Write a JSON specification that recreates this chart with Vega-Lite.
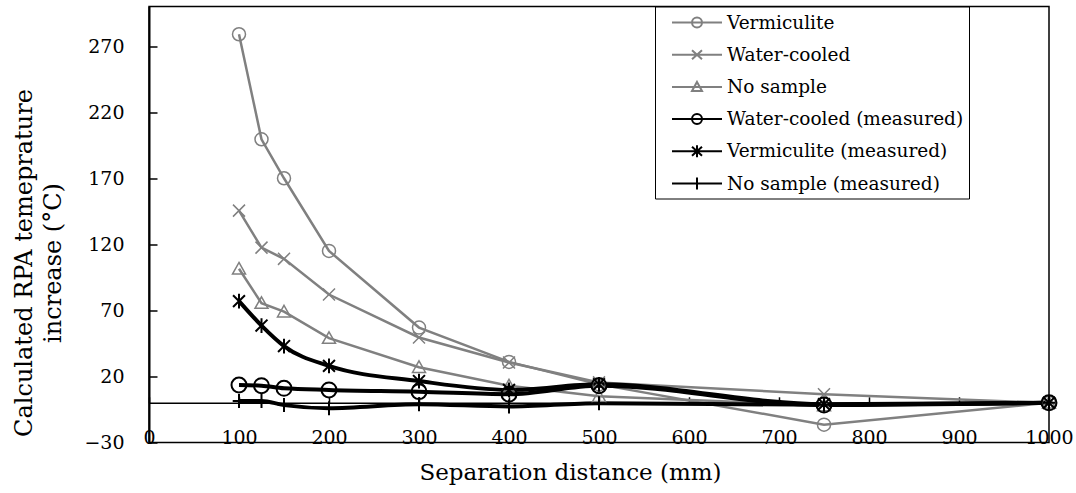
{
  "$schema": "https://vega.github.io/schema/vega-lite/v6.json",
  "width": 900,
  "height": 436,
  "autosize": {"type": "none"},
  "padding": {"left": 149, "top": 6.5, "right": 27, "bottom": 50},
  "background": "white",
  "config": {
    "view": {"stroke": "black", "strokeWidth": 1.5},
    "font": "DejaVu Serif",
    "axis": {"labelFont": "DejaVu Serif", "titleFont": "DejaVu Serif", "labelColor": "black", "titleColor": "black", "grid": false, "titleFontWeight": "normal"},
    "legend": {"labelFont": "DejaVu Serif", "labelColor": "black"}
  },
  "data": {
    "values": [
      {"x": 100, "series": "Vermiculite", "y": 279},
      {"x": 125, "series": "Vermiculite", "y": 199.5},
      {"x": 150, "series": "Vermiculite", "y": 170},
      {"x": 200, "series": "Vermiculite", "y": 115},
      {"x": 300, "series": "Vermiculite", "y": 57},
      {"x": 400, "series": "Vermiculite", "y": 31},
      {"x": 500, "series": "Vermiculite", "y": 14},
      {"x": 750, "series": "Vermiculite", "y": -16.5},
      {"x": 1000, "series": "Vermiculite", "y": 0},
      {"x": 100, "series": "Water-cooled", "y": 145.5},
      {"x": 125, "series": "Water-cooled", "y": 117.5},
      {"x": 150, "series": "Water-cooled", "y": 109},
      {"x": 200, "series": "Water-cooled", "y": 82},
      {"x": 300, "series": "Water-cooled", "y": 49.5},
      {"x": 400, "series": "Water-cooled", "y": 30.5},
      {"x": 500, "series": "Water-cooled", "y": 15.5},
      {"x": 750, "series": "Water-cooled", "y": 6.5},
      {"x": 1000, "series": "Water-cooled", "y": 0},
      {"x": 100, "series": "No sample", "y": 101.5},
      {"x": 125, "series": "No sample", "y": 75.5},
      {"x": 150, "series": "No sample", "y": 69},
      {"x": 200, "series": "No sample", "y": 49},
      {"x": 300, "series": "No sample", "y": 27},
      {"x": 400, "series": "No sample", "y": 13},
      {"x": 500, "series": "No sample", "y": 5},
      {"x": 750, "series": "No sample", "y": -2},
      {"x": 1000, "series": "No sample", "y": 0},
      {"x": 100, "series": "Water-cooled (measured)", "y": 13.5},
      {"x": 125, "series": "Water-cooled (measured)", "y": 13},
      {"x": 150, "series": "Water-cooled (measured)", "y": 11},
      {"x": 200, "series": "Water-cooled (measured)", "y": 9.8},
      {"x": 300, "series": "Water-cooled (measured)", "y": 8.5},
      {"x": 400, "series": "Water-cooled (measured)", "y": 6.6},
      {"x": 500, "series": "Water-cooled (measured)", "y": 13},
      {"x": 750, "series": "Water-cooled (measured)", "y": -1.7},
      {"x": 1000, "series": "Water-cooled (measured)", "y": 0},
      {"x": 100, "series": "Vermiculite (measured)", "y": 77},
      {"x": 125, "series": "Vermiculite (measured)", "y": 58.5},
      {"x": 150, "series": "Vermiculite (measured)", "y": 43},
      {"x": 200, "series": "Vermiculite (measured)", "y": 28},
      {"x": 300, "series": "Vermiculite (measured)", "y": 16.5},
      {"x": 400, "series": "Vermiculite (measured)", "y": 9.8},
      {"x": 500, "series": "Vermiculite (measured)", "y": 14},
      {"x": 750, "series": "Vermiculite (measured)", "y": -1},
      {"x": 1000, "series": "Vermiculite (measured)", "y": 0},
      {"x": 100, "series": "No sample (measured)", "y": 1.5},
      {"x": 125, "series": "No sample (measured)", "y": 1.5},
      {"x": 150, "series": "No sample (measured)", "y": -1.7},
      {"x": 200, "series": "No sample (measured)", "y": -4},
      {"x": 300, "series": "No sample (measured)", "y": -1},
      {"x": 400, "series": "No sample (measured)", "y": -2.7},
      {"x": 500, "series": "No sample (measured)", "y": -0.2},
      {"x": 750, "series": "No sample (measured)", "y": -1.5},
      {"x": 1000, "series": "No sample (measured)", "y": 0}
    ]
  },
  "encoding": {
    "x": {
      "field": "x", "type": "quantitative",
      "scale": {"domain": [0, 1000], "nice": false, "zero": false},
      "axis": {
        "title": "Separation distance (mm)", "titleFontSize": 23, "titleX": 421, "titlePadding": 14,
        "values": [0, 100, 200, 300, 400, 500, 600, 700, 800, 900, 1000], "format": "d",
        "labelFontSize": 19, "labelPadding": 32, "labelFlush": false,
        "offset": -39.7, "domainColor": "black", "domainWidth": 1.5,
        "tickColor": "black", "tickSize": -6, "tickWidth": 1.5
      }
    },
    "y": {
      "field": "y", "type": "quantitative",
      "scale": {"domain": [-30, 300], "nice": false, "zero": false},
      "axis": {
        "title": ["Calculated RPA temeprature", "increase (°C)"], "titleFontSize": 24, "titleLineHeight": 29,
        "titleY": 256, "titlePadding": 18,
        "values": [-30, 20, 70, 120, 170, 220, 270],
        "labelFontSize": 19, "labelPadding": 33,
        "domainColor": "black", "domainWidth": 2,
        "tickColor": "black", "tickSize": -8, "tickWidth": 1.5
      }
    }
  },
  "layer": [
    {
      "transform": [{"filter": "indexof(datum.series, 'measured') < 0"}],
      "mark": {"type": "line", "strokeWidth": 2.5, "interpolate": "linear"},
      "encoding": {
        "color": {
          "field": "series", "type": "nominal",
          "scale": {
            "domain": ["Vermiculite", "Water-cooled", "No sample", "Water-cooled (measured)", "Vermiculite (measured)", "No sample (measured)"],
            "range": ["#808080", "#808080", "#808080", "#000000", "#000000", "#000000"]
          },
          "legend": {
            "title": null, "orient": "none", "legendX": 506, "legendY": 0,
            "direction": "vertical",
            "labelFontSize": 18.5, "labelOffset": 4, "labelLimit": 0,
            "labelExpr": "datum.label + '\u00a0\u00a0\u00a0\u00a0\u00a0\u00a0\u00a0\u00a0\u00a0\u00a0\u00a0\u00a0'",
            "symbolSize": 400, "symbolOffset": 41, "rowPadding": 11.2,
            "padding": 5, "strokeColor": "black", "fillColor": "white",
            "symbolFillColor": "transparent", "symbolOpacity": 1
          }
        }
      }
    },
    {
      "transform": [{"filter": "indexof(datum.series, 'measured') >= 0"}],
      "mark": {"type": "line", "strokeWidth": 4, "interpolate": "monotone"},
      "encoding": {
        "color": {"field": "series", "type": "nominal"}
      }
    },
    {
      "transform": [{"filter": "datum.x < 0"}],
      "mark": {"type": "point", "filled": false, "size": 400, "opacity": 1},
      "encoding": {
        "color": {"field": "series", "type": "nominal"},
        "shape": {
          "field": "series", "type": "nominal",
          "scale": {
            "domain": ["Vermiculite", "Water-cooled", "No sample", "Water-cooled (measured)", "Vermiculite (measured)", "No sample (measured)"],
            "range": [
              "M -4 0 L 1 0 M -1 0 A 0.5 0.5 0 1 1 -2 0 A 0.5 0.5 0 1 1 -1 0 Z",
              "M -4 0 L 1 0 M -2 -0.45 L -1 0.45 M -2 0.45 L -1 -0.45",
              "M -4 0 L 1 0 M -1.5 -0.5 L -1 0.4 L -2 0.4 Z",
              "M -4 0 L 1 0 M -1 0 A 0.5 0.5 0 1 1 -2 0 A 0.5 0.5 0 1 1 -1 0 Z",
              "M -4 0 L 1 0 M -2 -0.45 L -1 0.45 M -2 0.45 L -1 -0.45 M -1.5 -0.6 L -1.5 0.6",
              "M -4 0 L 1 0 M -1.5 -0.6 L -1.5 0.6"
            ]
          },
          "legend": {"title": null}
        },
        "strokeWidth": {
          "field": "series", "type": "nominal", "legend": null,
          "scale": {
            "domain": ["Vermiculite", "Water-cooled", "No sample", "Water-cooled (measured)", "Vermiculite (measured)", "No sample (measured)"],
            "range": [2, 2, 2, 3.5, 3.5, 3.5]
          }
        }
      }
    },
    {
      "transform": [{"filter": "datum.series === 'Vermiculite'"}],
      "mark": {"type": "point", "filled": false, "size": 196, "color": "#808080", "strokeWidth": 1.5, "opacity": 1,
               "shape": "M 0.93 0 A 0.93 0.93 0 1 1 -0.93 0 A 0.93 0.93 0 1 1 0.93 0 Z"}
    },
    {
      "transform": [{"filter": "datum.series === 'Water-cooled'"}],
      "mark": {"type": "point", "filled": false, "size": 196, "color": "#808080", "strokeWidth": 1.5, "opacity": 1,
               "shape": "M -0.86 -0.86 L 0.86 0.86 M -0.86 0.86 L 0.86 -0.86"}
    },
    {
      "transform": [{"filter": "datum.series === 'No sample'"}],
      "mark": {"type": "point", "filled": false, "size": 196, "color": "#808080", "strokeWidth": 1.5, "opacity": 1,
               "shape": "M 0 -0.9 L 0.93 0.75 L -0.93 0.75 Z"}
    },
    {
      "transform": [{"filter": "datum.series === 'Water-cooled (measured)'"}],
      "mark": {"type": "point", "filled": false, "size": 196, "color": "#000000", "strokeWidth": 2, "opacity": 1,
               "shape": "M 1.07 0 A 1.07 1.07 0 1 1 -1.07 0 A 1.07 1.07 0 1 1 1.07 0 Z"}
    },
    {
      "transform": [{"filter": "datum.series === 'Vermiculite (measured)'"}],
      "mark": {"type": "point", "filled": false, "size": 196, "color": "#000000", "strokeWidth": 2, "opacity": 1,
               "shape": "M -0.85 -0.85 L 0.85 0.85 M -0.85 0.85 L 0.85 -0.85 M 0 -1.05 L 0 1.05"}
    },
    {
      "transform": [{"filter": "datum.series === 'No sample (measured)'"}],
      "mark": {"type": "point", "filled": false, "size": 196, "color": "#000000", "strokeWidth": 2, "opacity": 1,
               "shape": "M -0.9 0 L 0.9 0 M 0 -1 L 0 1"}
    }
  ]
}
